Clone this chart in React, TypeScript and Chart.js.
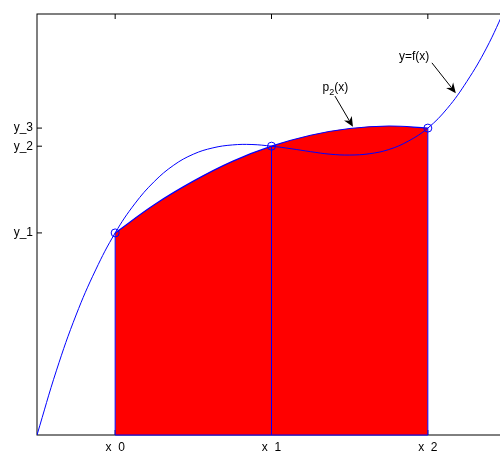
import React, { useEffect, useRef } from 'react';
import { Chart, registerables } from 'chart.js';

Chart.register(...registerables);

// ---- data ----
const F_X = [0.5, 0.625, 0.75, 0.875, 1.0, 1.125, 1.25, 1.375, 1.5, 1.625, 1.75, 1.875, 2.0,
  2.125, 2.25, 2.375, 2.5, 2.625, 2.75, 2.875, 3.0, 3.125, 3.25, 3.375, 3.5];
const F_Y = [0.0, 1.54, 2.85, 3.92, 4.80, 5.49, 6.02, 6.41, 6.67, 6.82, 6.89, 6.90, 6.86,
  6.80, 6.73, 6.67, 6.65, 6.68, 6.78, 6.98, 7.29, 7.76, 8.40, 9.19, 10.17];

const P2_X = [1.0, 1.25, 1.5, 1.75, 2.0, 2.25, 2.5, 2.75, 3.0];
const P2_Y = [4.80, 5.47, 6.03, 6.50, 6.86, 7.12, 7.28, 7.34, 7.29];

const NODE_X = [1, 2, 3];
const NODE_Y = [4.80, 6.86, 7.29];

const X_TICK_LABELS = ['x  0', 'x  1', 'x  2'];
const Y_TICK_LABELS = ['y_1', 'y_2', 'y_3'];

const X_MIN = 0.5;
const X_MAX = 3.5;
const Y_MIN = 0;
const Y_MAX = 10;

// annotation texts and arrows (data coordinates)
const ANNOTATIONS = [
  { parts: [['p', 0], ['2', 1], ['(x)', 0]], tx: 2.409, ty: 8.24, fx: 2.406, fy: 8.05, ax: 2.521, ay: 7.32 },
  { parts: [['y=f(x)', 0]], tx: 2.912, ty: 8.99, fx: 3.026, fy: 8.84, ax: 3.179, ay: 8.12 },
];

const FONT = '"Liberation Sans", Arial, Helvetica, sans-serif';
const BLUE = '#0000ff';
const RED = '#ff0000';

function drawArrow(ctx: CanvasRenderingContext2D, x1: number, y1: number, x2: number, y2: number) {
  const a = Math.atan2(y2 - y1, x2 - x1);
  const ux = Math.cos(a), uy = Math.sin(a);
  const nx = -uy, ny = ux;
  const L = 10, W = 4.5, N = 7;
  ctx.beginPath();
  ctx.moveTo(x1, y1);
  ctx.lineTo(x2 - N * ux, y2 - N * uy);
  ctx.stroke();
  ctx.beginPath();
  ctx.moveTo(x2, y2);
  ctx.lineTo(x2 - L * ux + W * nx, y2 - L * uy + W * ny);
  ctx.lineTo(x2 - N * ux, y2 - N * uy);
  ctx.lineTo(x2 - L * ux - W * nx, y2 - L * uy - W * ny);
  ctx.closePath();
  ctx.fill();
}

const framePlugin = {
  id: 'frame',
  beforeDatasetsDraw(chart: any) {
    const { ctx, chartArea, scales } = chart;
    const { left, right, top, bottom } = chartArea;
    const x = scales.x, y = scales.y;
    ctx.save();
    ctx.strokeStyle = '#000';
    ctx.lineWidth = 1;
    ctx.strokeRect(left, top, right - left, bottom - top);
    ctx.beginPath();
    x.ticks.forEach((t: any) => {
      const px = x.getPixelForValue(t.value);
      ctx.moveTo(px, bottom); ctx.lineTo(px, bottom - 5);
      ctx.moveTo(px, top); ctx.lineTo(px, top + 5);
    });
    y.ticks.forEach((t: any) => {
      const py = y.getPixelForValue(t.value);
      ctx.moveTo(left, py); ctx.lineTo(left + 5, py);
      ctx.moveTo(right, py); ctx.lineTo(right - 5, py);
    });
    ctx.stroke();
    ctx.restore();
  },
  afterDatasetsDraw(chart: any) {
    const { ctx, scales } = chart;
    const x = scales.x, y = scales.y;
    ctx.save();
    ctx.fillStyle = '#000';
    ctx.strokeStyle = '#000';
    ctx.lineWidth = 1;
    ctx.textBaseline = 'middle';
    ctx.textAlign = 'left';
    ANNOTATIONS.forEach((an) => {
      const cx = x.getPixelForValue(an.tx);
      const cy = y.getPixelForValue(an.ty);
      let total = 0;
      const widths = an.parts.map(([s, sub]) => {
        ctx.font = `${sub ? 9 : 12}px ${FONT}`;
        const w = ctx.measureText(s as string).width;
        total += w;
        return w;
      });
      let px = cx - total / 2;
      an.parts.forEach(([s, sub], i) => {
        ctx.font = `${sub ? 9 : 12}px ${FONT}`;
        ctx.fillText(s as string, px, cy + (sub ? 4 : 0));
        px += widths[i];
      });
      drawArrow(ctx, x.getPixelForValue(an.fx), y.getPixelForValue(an.fy),
        x.getPixelForValue(an.ax), y.getPixelForValue(an.ay));
    });
    ctx.restore();
  },
};

export default function App() {
  const ref = useRef<HTMLCanvasElement>(null);
  useEffect(() => {
    const canvas = ref.current;
    if (!canvas) return;
    const pts = (xs: number[], ys: number[]) => xs.map((v, i) => ({ x: v, y: ys[i] }));
    const chart = new Chart(canvas, {
      type: 'line',
      data: {
        datasets: [
          {
            label: 'nodes', data: pts(NODE_X, NODE_Y), showLine: false,
            pointRadius: 4, pointBorderColor: BLUE, pointBackgroundColor: 'rgba(0,0,0,0)',
            pointBorderWidth: 1, borderColor: BLUE, order: 0,
          },
          {
            label: 'f', data: pts(F_X, F_Y), borderColor: BLUE, borderWidth: 1,
            pointRadius: 0, tension: 0.4, fill: false, order: 1,
          },
          ...NODE_X.map((xv, i) => ({
            label: 'v' + i, data: [{ x: xv, y: 0 }, { x: xv, y: NODE_Y[i] }],
            borderColor: BLUE, borderWidth: 1, pointRadius: 0, fill: false, order: 2, clip: 2,
          })),
          {
            label: 'base', data: [{ x: NODE_X[0], y: 0 }, { x: NODE_X[2], y: 0 }],
            borderColor: BLUE, borderWidth: 1, pointRadius: 0, fill: false, order: 2, clip: 2,
          },
          {
            label: 'p2', data: pts(P2_X, P2_Y), borderColor: BLUE, borderWidth: 1.2,
            backgroundColor: RED, fill: 'origin', pointRadius: 0, tension: 0.4, order: 3,
          },
        ] as any,
      },
      options: {
        animation: false,
        responsive: false,
        maintainAspectRatio: false,
        layout: { padding: { top: 14, right: 14, left: 0, bottom: 0 } },
        plugins: { legend: { display: false }, tooltip: { enabled: false } },
        scales: {
          x: {
            type: 'linear', min: X_MIN, max: X_MAX,
            grid: { display: false, drawTicks: false },
            border: { display: false },
            afterBuildTicks: (s: any) => { s.ticks = NODE_X.map((v) => ({ value: v })); },
            afterFit: (s: any) => { s.height = 16; },
            ticks: {
              autoSkip: false, maxRotation: 0, padding: 5, color: '#000',
              font: { family: FONT, size: 12 },
              callback: (_v: any, i: number) => X_TICK_LABELS[i],
            },
          },
          y: {
            type: 'linear', min: Y_MIN, max: Y_MAX,
            grid: { display: false, drawTicks: false },
            border: { display: false },
            afterBuildTicks: (s: any) => { s.ticks = NODE_Y.map((v) => ({ value: v })); },
            afterFit: (s: any) => { s.width = 37; },
            ticks: {
              autoSkip: false, padding: 4, color: '#000',
              font: { family: FONT, size: 12 },
              callback: (_v: any, i: number) => Y_TICK_LABELS[i],
            },
          },
        },
      } as any,
      plugins: [framePlugin],
    });
    return () => chart.destroy();
  }, []);
  return (
    <div style={{ position: 'fixed', left: 0, top: 0, width: 500, height: 451, overflow: 'hidden', background: '#fff' }}>
      <canvas ref={ref} width={520} height={451} style={{ display: 'block', width: 520, height: 451 }} />
    </div>
  );
}
